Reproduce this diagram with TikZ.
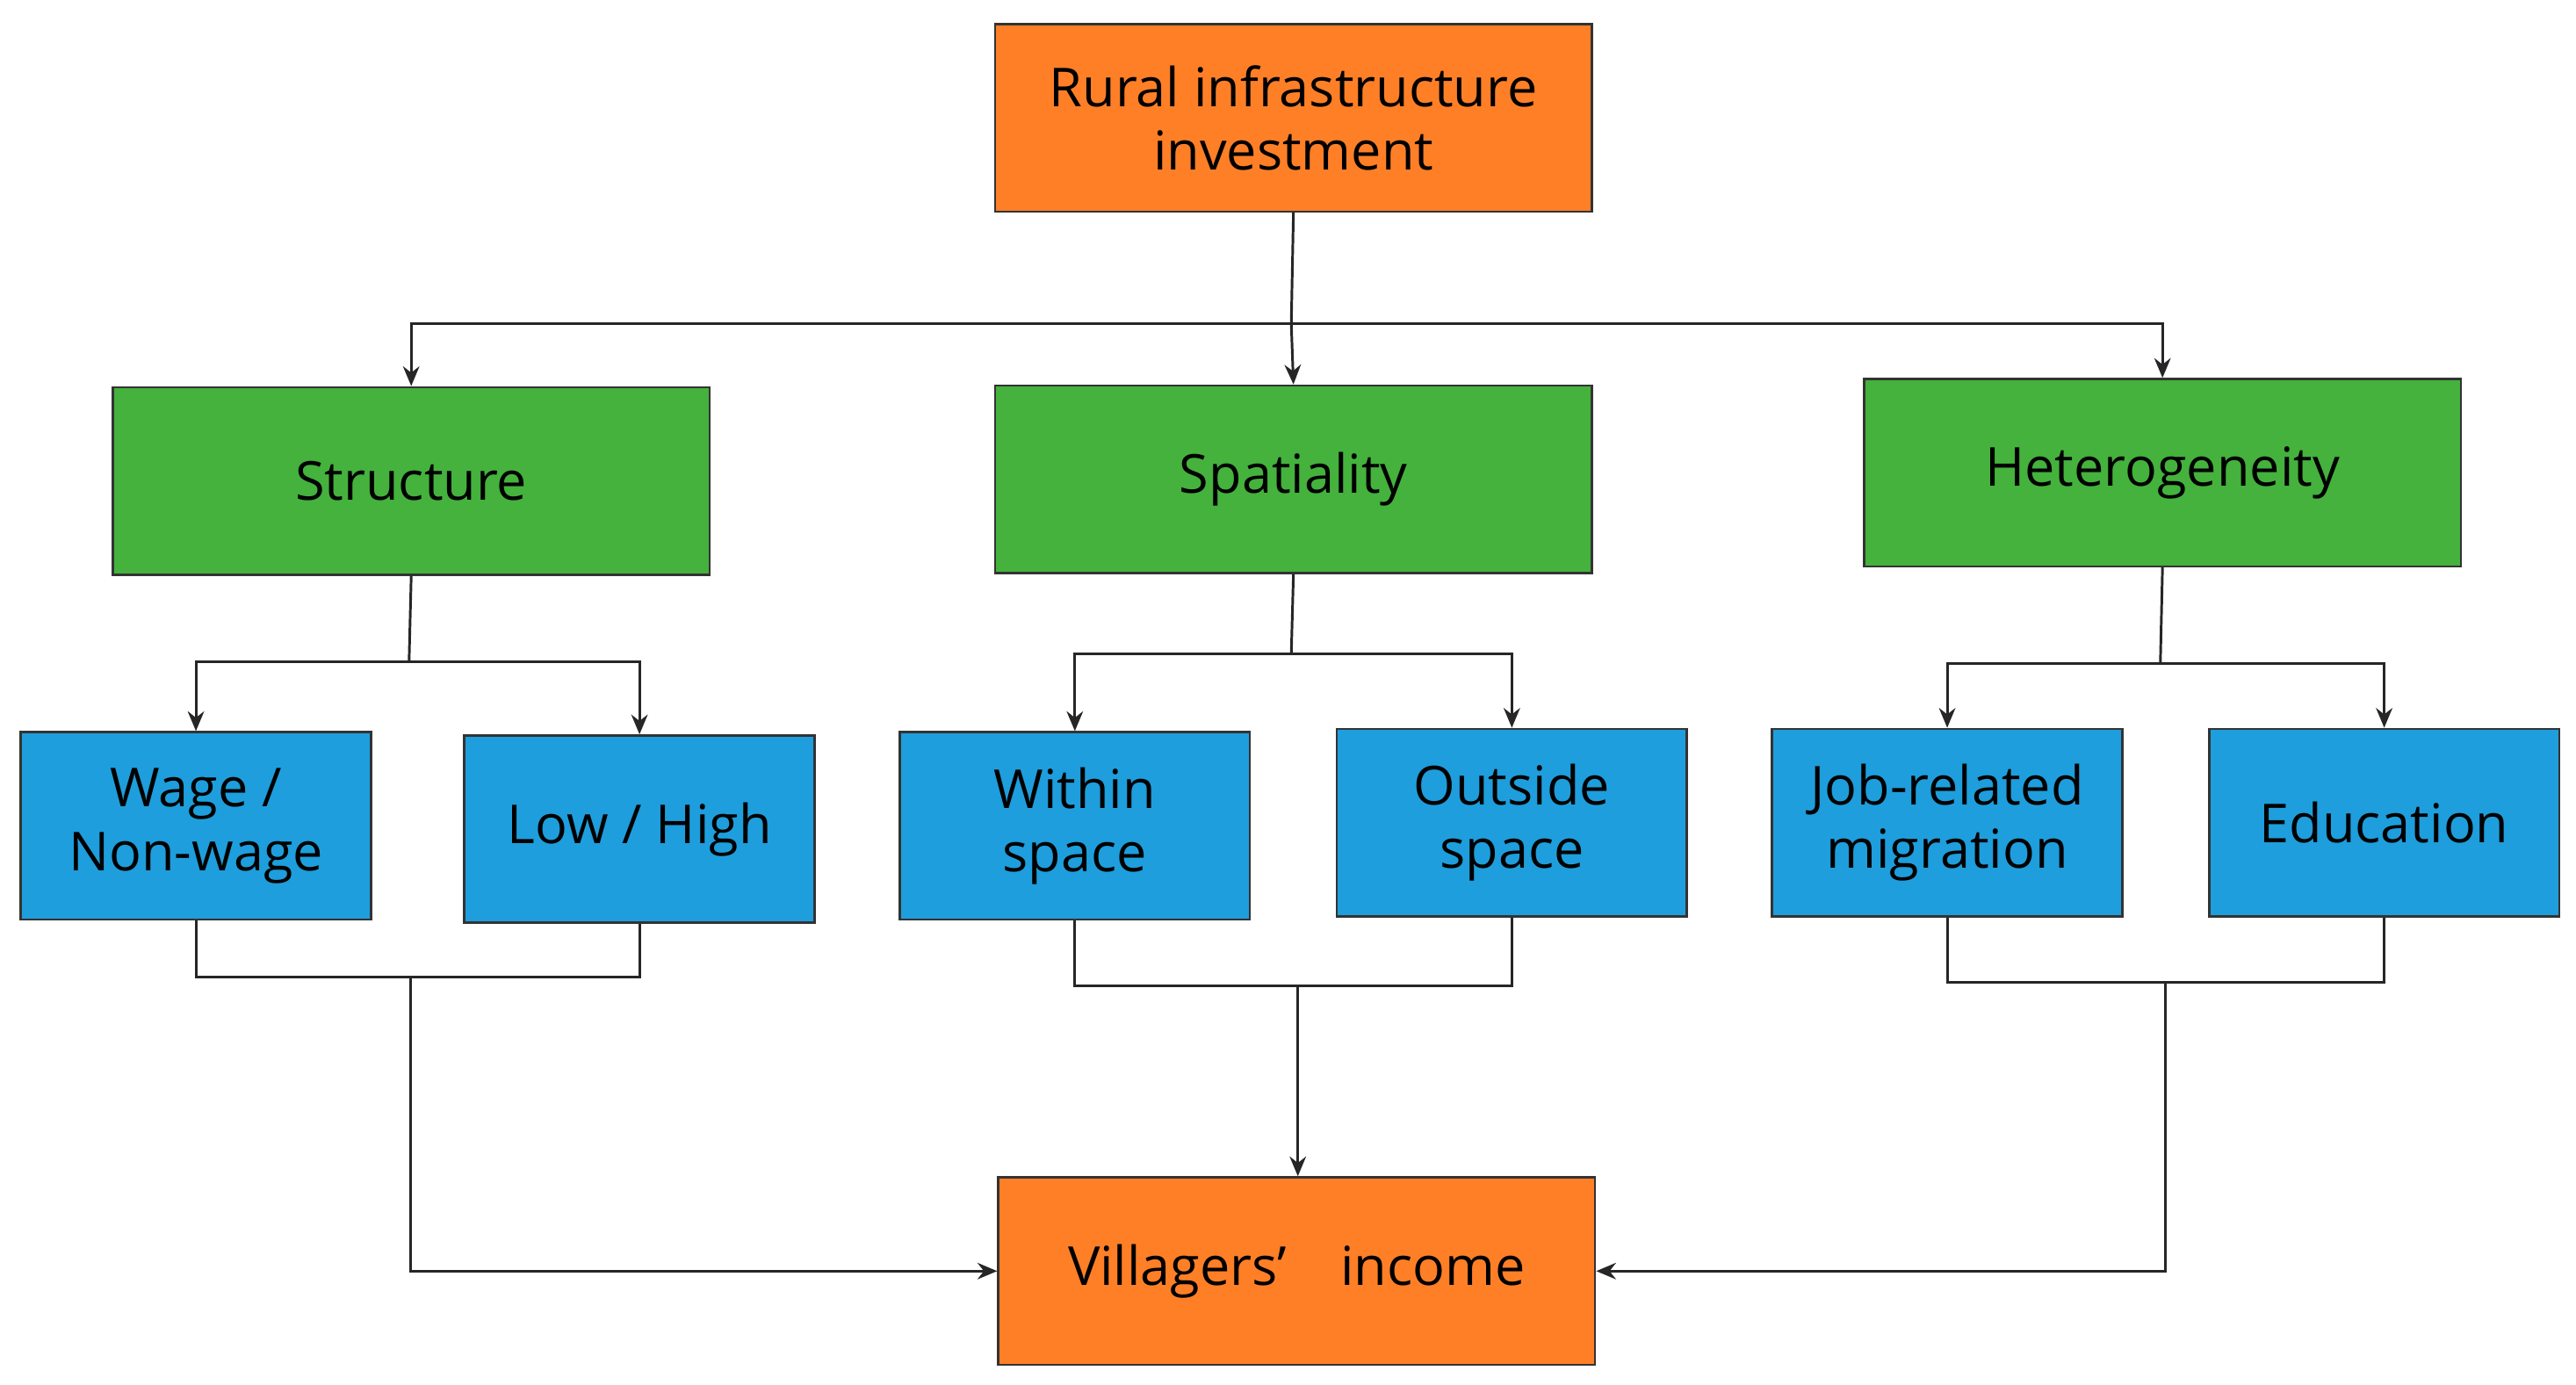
\documentclass[tikz,border=0pt]{standalone}
\usepackage{fontspec}
\setmainfont{Open Sans}
\usetikzlibrary{arrows.meta}
\definecolor{cor}{RGB}{255,127,39}
\definecolor{cgr}{RGB}{68,178,60}
\definecolor{cbl}{RGB}{30,158,220}
\tikzset{
 box/.style={draw=black!80,line width=0.4pt,minimum width=#1,minimum height=1.14cm,inner sep=0pt,align=center,font=\fontsize{9.3}{11}\selectfont,anchor=north west},
 big/.style={box=3.63cm},
 small/.style={box=2.13cm},
 ln/.style={line width=0.45pt,black!85},
 ar/.style={ln,-{Stealth[length=1.2mm,width=1mm]}}
}
\begin{document}
\begin{tikzpicture}[x=0.01cm,y=-0.01cm]
\useasboundingbox (0,0) rectangle (1568,843);
\node[big,fill=cor] (top) at (605,14) {Rural infrastructure\\investment};
\node[big,fill=cgr] (s1) at (68,235) {Structure};
\node[big,fill=cgr] (s2) at (605,234) {Spatiality};
\node[big,fill=cgr] (s3) at (1134,230) {Heterogeneity};
\node[small,fill=cbl] (b1) at (12,445) {Wage /\\Non-wage};
\node[small,fill=cbl] (b2) at (282,447) {Low / High};
\node[small,fill=cbl] (b3) at (547,445) {Within\\space};
\node[small,fill=cbl] (b4) at (813,443) {Outside\\space};
\node[small,fill=cbl] (b5) at (1078,443) {Job-related\\migration};
\node[small,fill=cbl] (b6) at (1344,443) {Education};
\node[big,fill=cor] (bot) at (607,716) {Villagers’\quad income};
% top
\coordinate (t1) at (786,197);
\draw[ln] (top.south) -- (t1);
\draw[ar] (t1) -- (s2.north);
\draw[ar] (t1) -| (s1.north);
\draw[ar] (t1) -| (s3.north);
% second level
\coordinate (c1) at (249,403);
\draw[ln] (s1.south) -- (c1);
\draw[ar] (c1) -| (b1.north);
\draw[ar] (c1) -| (b2.north);
\coordinate (c2) at (786,398);
\draw[ln] (s2.south) -- (c2);
\draw[ar] (c2) -| (b3.north);
\draw[ar] (c2) -| (b4.north);
\coordinate (c3) at (1315,404);
\draw[ln] (s3.south) -- (c3);
\draw[ar] (c3) -| (b5.north);
\draw[ar] (c3) -| (b6.north);
% bottom
\coordinate (d1) at (250,595);
\draw[ln] (b1.south) |- (d1) -| (b2.south);
\coordinate (d2) at (790,600);
\draw[ln] (b3.south) |- (d2) -| (b4.south);
\coordinate (d3) at (1318,598);
\draw[ln] (b5.south) |- (d3) -| (b6.south);
\draw[ar] (d1) |- (bot.west);
\draw[ar] (d2) -- (d2 |- bot.north);
\draw[ar] (d3) |- (bot.east);
\end{tikzpicture}
\end{document}
